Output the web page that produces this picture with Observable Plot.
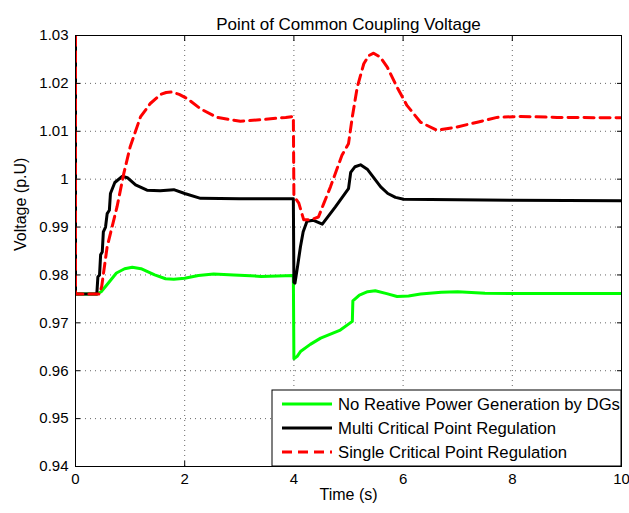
<!DOCTYPE html>
<html>
<head>
<meta charset="utf-8">
<script src="https://cdn.jsdelivr.net/npm/d3@7"></script>
<script src="https://cdn.jsdelivr.net/npm/@observablehq/plot@0.6"></script>
<style>
  body { margin: 0; background: #fff; }
  svg { font-family: "Liberation Sans", Arial, Helvetica, sans-serif; }
</style>
</head>
<body>
<div id="chart"></div>
<script>
// Point of common coupling voltage (p.u.) after load events at t = 0 and t = 4 s
const titleText = "Point of Common Coupling Voltage";
const xLabel = "Time (s)";
const yLabel = "Voltage (p.U)";

const xTicks = [0, 2, 4, 6, 8, 10];
const yTicks = [0.94, 0.95, 0.96, 0.97, 0.98, 0.99, 1.00, 1.01, 1.02, 1.03];
const yTickLabels = ["0.94", "0.95", "0.96", "0.97", "0.98", "0.99", "1", "1.01", "1.02", "1.03"];

const seriesNames = [
  "No Reative Power Generation by DGs",
  "Multi Critical Point Regulation",
  "Single Critical Point Regulation"
];

// No reactive power generation by DGs
const noQTime = [0, 0.39, 0.47, 0.55, 0.65, 0.75, 0.9, 1.04, 1.2, 1.45, 1.65, 1.8, 2.0, 2.25, 2.53, 2.9, 3.4, 3.99,
  4.0, 4.06, 4.12, 4.3, 4.49, 4.85, 5.07, 5.08, 5.2, 5.35, 5.49, 5.7, 5.89, 6.1, 6.32, 6.7, 7.0, 7.5, 8.0, 9.0, 10];
const noQVolt = [0.976, 0.976, 0.9765, 0.9776, 0.9790, 0.9804, 0.9813, 0.9816, 0.9813, 0.9800, 0.9792, 0.9791, 0.9793, 0.9799, 0.9802, 0.9800, 0.9797, 0.9799,
  0.9625, 0.9630, 0.9640, 0.9655, 0.9668, 0.9685, 0.9703, 0.9746, 0.9758, 0.9765, 0.9767, 0.9761, 0.9755, 0.9756, 0.9760, 0.9764, 0.9765, 0.9762, 0.9761, 0.9761, 0.9761];

// Multi critical point regulation
const multiTime = [0, 0, 0.39, 0.41, 0.44, 0.46, 0.49, 0.51, 0.55, 0.58, 0.62, 0.64, 0.72, 0.855, 0.95, 1.1, 1.31, 1.55, 1.8, 2.0, 2.29, 3.0, 3.99,
  4.0, 4.02, 4.07, 4.12, 4.17, 4.24, 4.36, 4.52, 4.76, 5.0, 5.04, 5.12, 5.22, 5.35, 5.59, 5.72, 5.86, 6.01, 7, 8, 10];
const multiVolt = [1.03, 0.976, 0.976, 0.9796, 0.9800, 0.9842, 0.9848, 0.9890, 0.9900, 0.9928, 0.9935, 0.9970, 0.9993, 1.0006, 1.0003, 0.9988, 0.9977, 0.9976, 0.9978, 0.9970, 0.9960, 0.9959, 0.9959,
  0.9785, 0.9783, 0.9820, 0.9859, 0.9890, 0.9912, 0.9914, 0.9906, 0.9942, 0.9980, 1.0014, 1.0026, 1.0030, 1.0020, 0.9984, 0.9970, 0.9962, 0.9958, 0.9957, 0.9956, 0.9955];

// Single critical point regulation
const singleTime = [0, 0, 0.44, 0.48, 0.58, 0.76, 0.885, 1.0, 1.19, 1.37, 1.56, 1.66, 1.77, 1.9, 2.05, 2.29, 2.59, 3.02, 3.39, 3.85, 3.99,
  4.0, 4.09, 4.18, 4.3, 4.45, 4.55, 4.67, 4.88, 5.0, 5.07, 5.16, 5.28, 5.37, 5.46, 5.58, 5.71, 5.89, 6.07, 6.32, 6.62, 6.99, 7.36, 7.72, 8.15, 8.82, 10];
const singleVolt = [1.03, 0.976, 0.976, 0.9776, 0.9859, 0.9942, 1.0012, 1.0067, 1.0130, 1.0158, 1.0177, 1.0181, 1.0182, 1.0177, 1.0168, 1.0147, 1.0129, 1.0121, 1.0124, 1.0129, 1.0131,
  0.9965, 0.9950, 0.9915, 0.9915, 0.9921, 0.9950, 0.9984, 1.0050, 1.0074, 1.0130, 1.0192, 1.0241, 1.0258, 1.0263, 1.0255, 1.0234, 1.0192, 1.0154, 1.0119, 1.0102, 1.0109, 1.0119, 1.0129, 1.0131, 1.0129, 1.0128];

const toRows = (ts, vs) => ts.map((t, i) => ({t, v: vs[i]}));
const noQ = toRows(noQTime, noQVolt);
const multi = toRows(multiTime, multiVolt);
const single = toRows(singleTime, singleVolt);

const colors = ["#00ff00", "#000000", "#ff0000"];
const dashes = [null, null, "10,6"];
const font = '"Liberation Sans", Arial, Helvetica, sans-serif';

const grid = {stroke: "#000", strokeOpacity: 0.6, strokeDasharray: "1,4"};
const lineStyle = {x: "t", y: "v", strokeWidth: 3, clip: true, strokeLinejoin: "round"};

const plot = Plot.plot({
  width: 629,
  height: 513,
  marginLeft: 75,
  marginRight: 8,
  marginTop: 35,
  marginBottom: 47,
  style: {fontFamily: font, fontSize: "15px", background: "#fff", color: "#000"},
  x: {domain: [0, 10], ticks: xTicks, label: null},
  y: {domain: [0.94, 1.03], ticks: yTicks, label: null},
  marks: [
    Plot.gridX(xTicks, grid),
    Plot.gridY(yTicks, grid),
    Plot.line(noQ, {...lineStyle, stroke: colors[0]}),
    Plot.line(multi, {...lineStyle, stroke: colors[1]}),
    Plot.line(single, {...lineStyle, stroke: colors[2], strokeDasharray: dashes[2]}),
    Plot.frame({stroke: "#000", strokeWidth: 1}),
    Plot.axisX(xTicks, {anchor: "bottom", tickSize: -5, tickPadding: 12, tickFormat: d => String(d), fontSize: 15, label: null}),
    Plot.axisX(xTicks, {anchor: "top", tickSize: -5, tickFormat: () => "", label: null}),
    Plot.axisY(yTicks, {anchor: "left", tickSize: -5, tickPadding: 12, tickFormat: d => yTickLabels[yTicks.indexOf(d)], fontSize: 15, label: null}),
    Plot.axisY(yTicks, {anchor: "right", tickSize: -5, tickFormat: () => "", label: null}),
    Plot.text([titleText], {frameAnchor: "top", dy: -18, fontSize: 17}),
    Plot.text([xLabel], {frameAnchor: "bottom", dy: 33, fontSize: 16}),
    Plot.text([yLabel], {frameAnchor: "left", dx: -55, rotate: -90, fontSize: 16})
  ]
});

document.getElementById("chart").appendChild(plot);

// Legend box in the lower right corner of the axes
const svg = d3.select(plot);
const legend = svg.append("g")
  .attr("font-family", font)
  .attr("font-size", 16.7)
  .attr("text-anchor", "start");
legend.append("rect")
  .attr("x", 272).attr("y", 390).attr("width", 349).attr("height", 76)
  .attr("fill", "#fff").attr("stroke", "#000").attr("stroke-width", 1);
seriesNames.forEach((name, i) => {
  const y = 404 + i * 24;
  legend.append("line")
    .attr("x1", 282).attr("x2", 332).attr("y1", y).attr("y2", y)
    .attr("stroke", colors[i]).attr("stroke-width", 3)
    .attr("stroke-dasharray", dashes[i]);
  legend.append("text")
    .attr("x", 338).attr("y", y).attr("dy", "0.35em")
    .attr("fill", "#000").text(name);
});
</script>
</body>
</html>
